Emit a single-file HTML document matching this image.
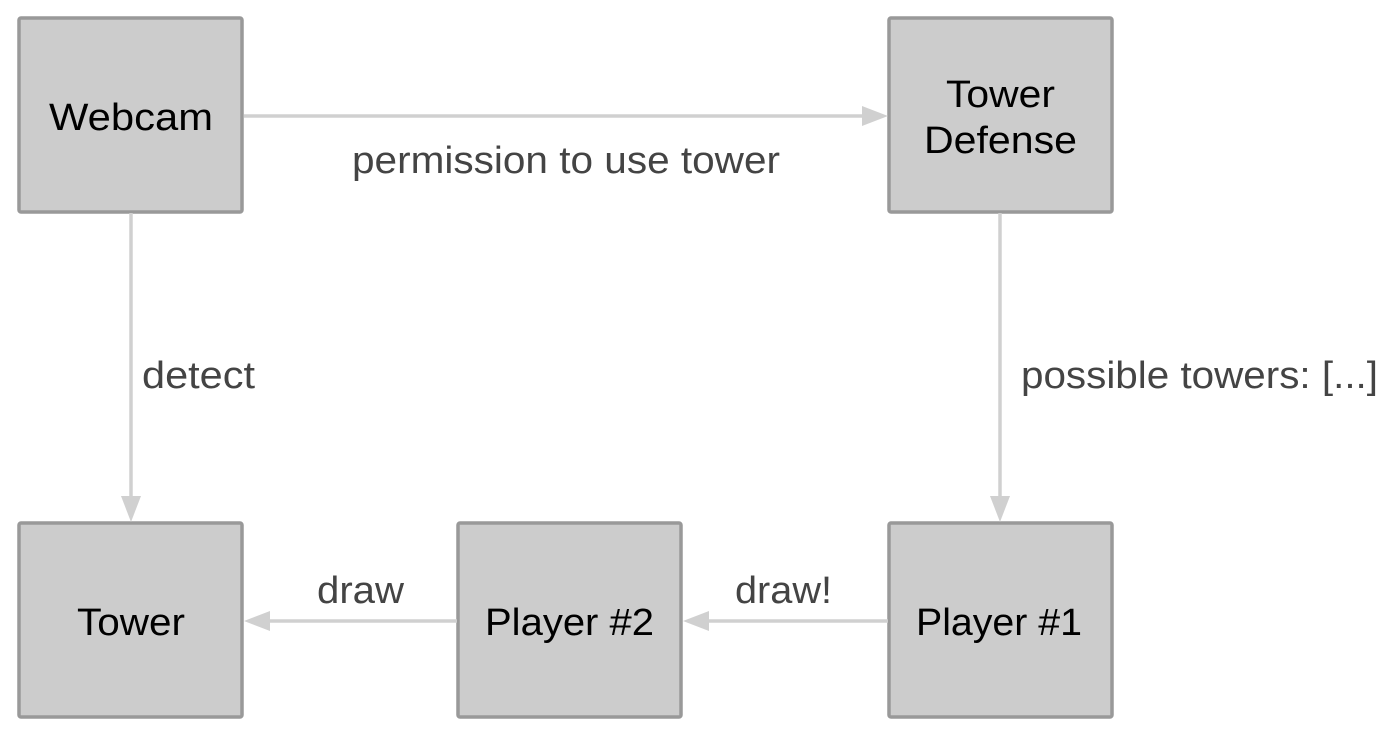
<!DOCTYPE html>
<html><head><style>
body{margin:0;background:#fff;}
svg text{font-family:"Liberation Sans",Arial,sans-serif;font-size:38px;}
</style></head><body>
<svg width="1382" height="730" xmlns="http://www.w3.org/2000/svg">
<g fill="#cccccc" stroke="#999999" stroke-width="3.5">
<rect x="19" y="18" width="223" height="194" rx="2"/>
<rect x="889" y="18" width="223" height="194" rx="2"/>
<rect x="19" y="523" width="223" height="194" rx="2"/>
<rect x="458" y="523" width="223" height="194" rx="2"/>
<rect x="889" y="523" width="223" height="194" rx="2"/>
</g>
<g stroke="#d0d0d0" stroke-width="3.5" fill="none">
<line x1="244" y1="116" x2="864" y2="116"/>
<line x1="131" y1="213" x2="131" y2="498"/>
<line x1="1000" y1="213" x2="1000" y2="498"/>
<line x1="888" y1="621" x2="706" y2="621"/>
<line x1="457" y1="621" x2="268" y2="621"/>
</g>
<g fill="#d0d0d0">
<polygon points="888,116 862,106 862,126"/>
<polygon points="131,522 121,496 141,496"/>
<polygon points="1000,522 990,496 1010,496"/>
<polygon points="683,621 709,611 709,631"/>
<polygon points="244,621 270,611 270,631"/>
</g>
<g fill="#000" lengthAdjust="spacingAndGlyphs">
<text x="49" y="130" textLength="164" lengthAdjust="spacingAndGlyphs">Webcam</text>
<text x="946" y="107" textLength="109" lengthAdjust="spacingAndGlyphs">Tower</text>
<text x="924" y="153" textLength="153" lengthAdjust="spacingAndGlyphs">Defense</text>
<text x="77" y="635" textLength="108" lengthAdjust="spacingAndGlyphs">Tower</text>
<text x="485" y="635" textLength="169" lengthAdjust="spacingAndGlyphs">Player #2</text>
<text x="916" y="635" textLength="166" lengthAdjust="spacingAndGlyphs">Player #1</text>
</g>
<g fill="#444">
<text x="352" y="173" textLength="428" lengthAdjust="spacingAndGlyphs">permission to use tower</text>
<text x="142" y="388" textLength="113" lengthAdjust="spacingAndGlyphs">detect</text>
<text x="1021" y="388" textLength="357" lengthAdjust="spacingAndGlyphs">possible towers: [...]</text>
<text x="317" y="603" textLength="87" lengthAdjust="spacingAndGlyphs">draw</text>
<text x="735" y="603" textLength="97" lengthAdjust="spacingAndGlyphs">draw!</text>
</g>
</svg>
</body></html>
